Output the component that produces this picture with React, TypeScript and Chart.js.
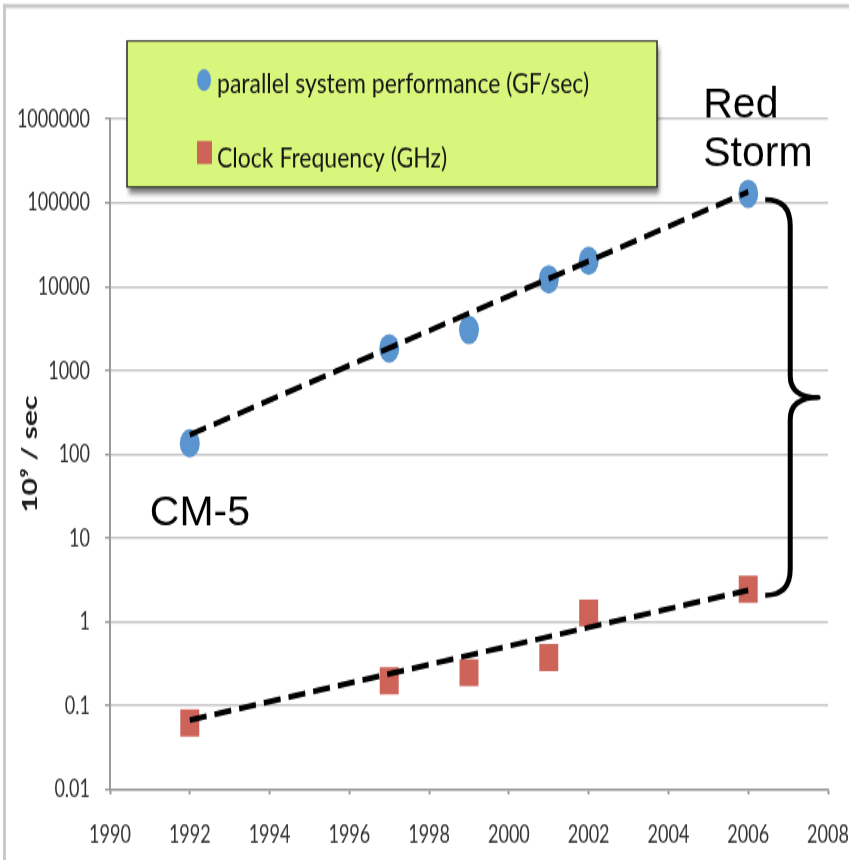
import React, { useEffect, useRef } from "react";
import { Chart, registerables } from "chart.js";

Chart.register(...registerables);

// ---- data ----
const years = [1992, 1997, 1999, 2001, 2002, 2006];
const perfGFs = [135, 1830, 3030, 12200, 20300, 128000];
const clockGHz = [0.062, 0.197, 0.246, 0.374, 1.27, 2.44];

const trendYears = [1992, 2006];
const perfTrend = [170, 135000];
const clockTrend = [0.067, 2.37];

const yTickValues = [0.01, 0.1, 1, 10, 100, 1000, 10000, 100000, 1000000];
const yTickLabels = ["0.01", "0.1", "1", "10", "100", "1000", "10000", "100000", "1000000"];
const xTickValues = [1990, 1992, 1994, 1996, 1998, 2000, 2002, 2004, 2006, 2008];

const seriesNames = ["parallel system performance (GF/sec)", "Clock Frequency (GHz)"];
const yAxisTitle = "10⁹ / sec";
const topCallout = ["Red", "Storm"];
const bottomCallout = "CM-5";

// ---- drawing setup ----
// The plot is laid out on a shorter canvas and shown stretched vertically.
const W = 849;
const H = 601;
const SHOWN_H = 860;
const S = SHOWN_H / H;

const BLUE = "#5b95cf";
const RED = "#cd6359";
const AXIS_GRAY = "#9a9a9a";
const GRID_GRAY = "#c6c6c6";
const LABEL_FONT = "Lato, 'Open Sans', sans-serif";

const backdrop = {
  id: "backdrop",
  beforeDraw(chart: any) {
    const { ctx, width, height } = chart;
    ctx.save();
    ctx.fillStyle = "#ffffff";
    ctx.fillRect(0, 0, width, height);
    ctx.scale(1, 1 / S);
    ctx.fillStyle = "#c9c9c9";
    ctx.fillRect(3, 4, width - 3, 4);
    ctx.fillRect(3, 4, 3, height * S);
    ctx.fillStyle = "#e6e6e6";
    ctx.fillRect(6, 8, width - 6, 1);
    ctx.restore();
  },
};

const annotations = {
  id: "annotations",
  afterDraw(chart: any) {
    const { ctx } = chart;
    const xs = chart.scales.x;
    const ys = chart.scales.y;
    const last = years.length - 1;
    const px = (v: number) => xs.getPixelForValue(v);
    const py = (v: number) => ys.getPixelForValue(v) * S;

    ctx.save();
    // work in displayed (unstretched) coordinates
    ctx.scale(1, 1 / S);

    // legend panel
    const lx = 127, ly = 41, lw = 530, lh = 146;
    ctx.save();
    ctx.shadowColor = "rgba(0,0,0,0.55)";
    ctx.shadowOffsetX = 2;
    ctx.shadowOffsetY = 4;
    ctx.shadowBlur = 4;
    ctx.fillStyle = "#d8f67b";
    ctx.fillRect(lx, ly, lw, lh);
    ctx.restore();
    ctx.strokeStyle = "#2a2a2a";
    ctx.lineWidth = 1.5;
    ctx.strokeRect(lx, ly, lw, lh);

    // legend markers
    ctx.fillStyle = BLUE;
    ctx.beginPath();
    ctx.ellipse(204, 80, 7, 11, 0, 0, Math.PI * 2);
    ctx.fill();
    ctx.fillStyle = RED;
    ctx.fillRect(197, 141, 15, 23);

    // legend text, slightly tall like the other chart lettering
    ctx.fillStyle = "#141414";
    ctx.font = `23px ${LABEL_FONT}`;
    ctx.textBaseline = "alphabetic";
    ctx.textAlign = "left";
    const legendText = (t: string, x: number, y: number) => {
      ctx.save();
      ctx.translate(x, y);
      ctx.scale(1, 1.2);
      ctx.fillText(t, 0, 0);
      ctx.restore();
    };
    legendText(seriesNames[0], 217, 93);
    legendText(seriesNames[1], 217, 167);

    // callout labels
    ctx.fillStyle = "#000";
    ctx.font = "41px 'Liberation Sans', Arial, sans-serif";
    const rx = px(years[last]) - 45;
    const ry = py(perfGFs[last]);
    ctx.fillText(topCallout[0], rx, ry - 77);
    ctx.fillText(topCallout[1], rx, ry - 28);
    ctx.fillText(bottomCallout, px(years[0]) - 40, py(perfGFs[0]) + 82);

    // brace spanning the 2006 gap between the two series
    const bx = px(years[last]);
    const yTop = py(perfGFs[last]) + 6;
    const yBot = py(clockGHz[last]) + 6;
    const yMid = (yTop + yBot) / 2;
    const x0 = bx + 17, xv = bx + 42, xt = bx + 70;
    ctx.beginPath();
    ctx.moveTo(x0, yTop);
    ctx.quadraticCurveTo(xv, yTop, xv, yTop + 26);
    ctx.lineTo(xv, yMid - 22);
    ctx.quadraticCurveTo(xv, yMid, xt, yMid);
    ctx.quadraticCurveTo(xv, yMid, xv, yMid + 22);
    ctx.lineTo(xv, yBot - 26);
    ctx.quadraticCurveTo(xv, yBot, x0, yBot);
    ctx.strokeStyle = "#000";
    ctx.lineWidth = 5;
    ctx.lineJoin = "round";
    ctx.stroke();

    ctx.restore();
  },
};

export default function App() {
  const ref = useRef<HTMLCanvasElement>(null);

  useEffect(() => {
    document.body.style.margin = "0";
    const canvas = ref.current;
    if (!canvas) return;

    const chart = new Chart(canvas, {
      type: "scatter",
      data: {
        datasets: [
          {
            type: "line",
            label: "performance trend",
            data: trendYears.map((x, i) => ({ x, y: perfTrend[i] })),
            borderColor: "#000",
            borderWidth: 4,
            borderDash: [17, 8],
            pointRadius: 0,
            fill: false,
            order: 0,
          },
          {
            type: "line",
            label: "clock trend",
            data: trendYears.map((x, i) => ({ x, y: clockTrend[i] })),
            borderColor: "#000",
            borderWidth: 4,
            borderDash: [17, 8],
            pointRadius: 0,
            fill: false,
            order: 0,
          },
          {
            label: seriesNames[0],
            data: years.map((x, i) => ({ x, y: perfGFs[i] })),
            pointStyle: "circle",
            pointRadius: 10,
            backgroundColor: BLUE,
            borderWidth: 0,
            order: 1,
          },
          {
            label: seriesNames[1],
            data: years.map((x, i) => ({ x, y: clockGHz[i] })),
            pointStyle: "rect",
            pointRadius: 13.4,
            backgroundColor: RED,
            borderWidth: 0,
            order: 1,
          },
        ],
      },
      options: {
        responsive: false,
        animation: false,
        devicePixelRatio: 1,
        events: [],
        layout: { padding: { top: 83.1, right: 21, bottom: 0, left: 0 } },
        plugins: {
          legend: { display: false },
          tooltip: { enabled: false },
        },
        scales: {
          x: {
            type: "linear",
            min: 1990,
            max: 2008,
            afterBuildTicks: (scale: any) => {
              scale.ticks = xTickValues.map((value) => ({ value }));
            },
            afterFit: (scale: any) => {
              scale.height = H - 551.6;
              scale.paddingLeft = 0;
              scale.paddingRight = 0;
            },
            ticks: {
              callback: (v: any) => String(v),
              font: { family: LABEL_FONT, size: 18 },
              color: "#333333",
              padding: 17,
              maxRotation: 0,
              autoSkip: false,
            },
            grid: {
              drawOnChartArea: false,
              drawTicks: true,
              tickLength: 3.5,
              color: AXIS_GRAY,
              tickColor: AXIS_GRAY,
              tickWidth: 2,
            },
            border: { color: AXIS_GRAY, width: 1.4 },
          },
          y: {
            type: "logarithmic",
            min: 0.01,
            max: 1000000,
            afterBuildTicks: (scale: any) => {
              scale.ticks = yTickValues.map((value) => ({ value }));
            },
            afterFit: (scale: any) => {
              scale.width = 110;
              scale.paddingTop = 0;
              scale.paddingBottom = 0;
            },
            ticks: {
              callback: (v: any) => yTickLabels[yTickValues.indexOf(Number(v))] ?? String(v),
              font: { family: LABEL_FONT, size: 18 },
              color: "#333333",
              padding: 15,
              autoSkip: false,
            },
            grid: {
              color: GRID_GRAY,
              lineWidth: 1.4,
              tickLength: 5,
              tickColor: AXIS_GRAY,
              tickWidth: 1.4,
            },
            border: { color: AXIS_GRAY, width: 2 },
            title: {
              display: true,
              text: yAxisTitle,
              font: { family: LABEL_FONT, size: 21, weight: "bold" },
              color: "#1e1e1e",
              padding: { top: 18, bottom: 0 },
            },
          },
        },
      },
      plugins: [backdrop, annotations],
    } as any);

    return () => chart.destroy();
  }, []);

  return (
    <canvas
      ref={ref}
      width={W}
      height={H}
      style={{ display: "block", width: `${W}px`, height: `${SHOWN_H}px` }}
    />
  );
}
